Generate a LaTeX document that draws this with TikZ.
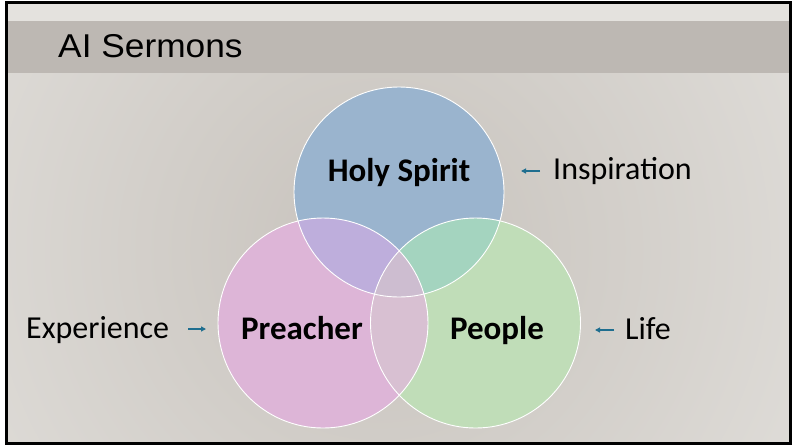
\documentclass[tikz,border=0pt]{standalone}
\usepackage{fontspec}
\setmainfont{Carlito}
\newfontfamily\titlefam{Liberation Sans}
\usetikzlibrary{arrows.meta}
\definecolor{bgdark}{HTML}{C7C2BC}
\definecolor{bglight}{HTML}{EEEDEA}
\definecolor{band}{HTML}{BDB8B3}
\definecolor{strip}{HTML}{E4E2DE}
\definecolor{cblue}{HTML}{9AB4CE}
\definecolor{cpink}{HTML}{DDB5D7}
\definecolor{cgreen}{HTML}{C0DDB8}
\definecolor{cbp}{HTML}{BEAEDC}
\definecolor{cbg}{HTML}{A4D4BF}
\definecolor{cpg}{HTML}{D8C0D2}
\definecolor{call}{HTML}{CDBDD0}
\definecolor{arrcol}{HTML}{1F6E8F}
\tikzset{
  venn/.style={circle, minimum size=210pt, inner sep=0pt, draw=none},
  rim/.style={draw=white, line width=0.9pt},
  boldlab/.style={font=\fontsize{33}{36}\selectfont\bfseries, inner sep=0pt, anchor=base},
  sidelab/.style={font=\fontsize{32}{36}\selectfont, inner sep=0pt, anchor=base west},
  pointer/.style={draw=arrcol, line width=1.3pt, -{Triangle[length=5pt,width=5pt]}}
}
\begin{document}
\begin{tikzpicture}[x=1pt,y=-1pt]
\useasboundingbox (0,0) rectangle (792,445);
% background
\fill[white] (0,0) rectangle (792,445);
\begin{scope}
  \clip (6,3) rectangle (790,443);
  \fill[bglight] (6,3) rectangle (790,443);
  \shade[inner color=bgdark, outer color=bglight] (380,250) circle (780);
  \fill[strip] (6,3) rectangle (790,21);
  \fill[band] (6,21) rectangle (790,73);
\end{scope}
\draw[black, line width=3pt] (6.5,2) rectangle (790.5,443.5);
% title
\node[anchor=base west, inner sep=0pt, font=\titlefam\fontsize{33}{36}\selectfont] (title) at (58,57) {\scalebox{1.07}[1]{AI Sermons}};
% circles
\node[venn] (hs) at (399,192) {};
\node[venn] (pr) at (323,323) {};
\node[venn] (pe) at (475.5,323) {};
\fill[cblue] (hs.center) circle (105);
\fill[cpink] (pr.center) circle (105);
\fill[cgreen] (pe.center) circle (105);
\begin{scope}
  \clip (hs.center) circle (105);
  \fill[cbp] (pr.center) circle (105);
  \fill[cbg] (pe.center) circle (105);
\end{scope}
\begin{scope}
  \clip (pr.center) circle (105);
  \fill[cpg] (pe.center) circle (105);
  \clip (hs.center) circle (105);
  \fill[call] (pe.center) circle (105);
\end{scope}
\draw[rim] (hs.center) circle (105);
\draw[rim] (pr.center) circle (105);
\draw[rim] (pe.center) circle (105);
% labels
\node[boldlab] (hst) at (399,181) {Holy Spirit};
\node[boldlab] (prt) at (302,339) {Preacher};
\node[boldlab] (pet) at (497,339) {People};
\node[sidelab] (insp) at (553,179) {Inspiration};
\node[sidelab] (exp) at (26,338) {Experience};
\node[sidelab] (life) at (625,339) {Life};
% pointers
\coordinate (a1s) at (540,171); \coordinate (a1e) at (521,171);
\coordinate (a2s) at (188,329); \coordinate (a2e) at (206,329);
\coordinate (a3s) at (614,330); \coordinate (a3e) at (595,330);
\draw[pointer] (a1s) -- (a1e);
\draw[pointer] (a2s) -- (a2e);
\draw[pointer] (a3s) -- (a3e);
\end{tikzpicture}
\end{document}
